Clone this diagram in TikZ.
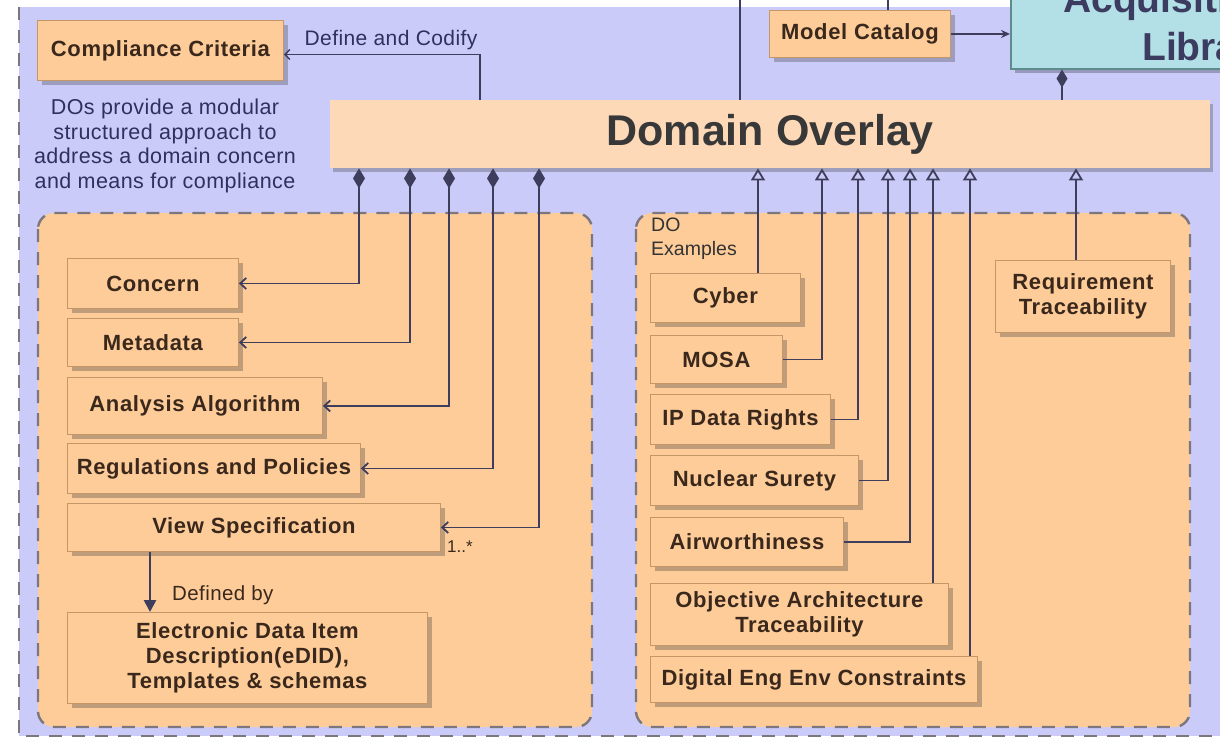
\documentclass[tikz,border=0pt]{standalone}
\usepackage{fontspec}
\setmainfont{Liberation Sans}
\newfontfamily\boxfont[LetterSpace=3]{Liberation Sans}
\newfontfamily\notefont[LetterSpace=2]{Liberation Sans}
\usetikzlibrary{arrows.meta,shadows}

\definecolor{lav}{RGB}{203,203,250}
\definecolor{peach}{RGB}{253,204,153}
\definecolor{peachlt}{RGB}{253,217,184}
\definecolor{boxedge}{RGB}{196,150,104}
\definecolor{aqualt}{RGB}{178,224,230}
\definecolor{aquaedge}{RGB}{92,140,140}
\definecolor{wirecol}{RGB}{62,62,92}
\definecolor{ink}{RGB}{58,40,28}
\definecolor{navytxt}{RGB}{48,48,92}
\definecolor{dashcol}{RGB}{125,118,125}

\tikzset{
  blk/.style={draw=boxedge, line width=0.9pt, fill=peach, anchor=north west,
    inner sep=1pt, align=center, text=ink,
    font=\boxfont\fontsize{22}{25}\selectfont\bfseries,
    drop shadow={shadow xshift=5pt, shadow yshift=-5pt, opacity=0.3, fill=black!80}},
  pack/.style={draw=dashcol, line width=2.4pt, dash pattern=on 13pt off 10pt,
    fill=peach, rounded corners=16pt},
  wire/.style={draw=wirecol, line width=1.8pt},
  comp/.style={wire, {Diamond[length=20pt,width=12pt]}-{Straight Barb[length=6pt,width=11pt]}},
  gen/.style={wire, -{Triangle[open, fill=lav, length=12pt, width=14pt, line width=1.8pt]}},
  note/.style={text=navytxt, font=\notefont\fontsize{21.5}{24.5}\selectfont, align=center, inner sep=0pt},
}

\begin{document}
\begin{tikzpicture}[x=1pt, y=-1pt]
\useasboundingbox (0,0) rectangle (1220,740);
\clip (0,0) rectangle (1220,740);

% canvas
\fill[white] (0,0) rectangle (1220,740);
\fill[lav] (19,7) rectangle (1220,736);
\draw[draw=dashcol, line width=2.4pt, dash pattern=on 13pt off 10pt]
  (19,7) -- (19,736) -- (1220,736);

% packages
\draw[pack] (38,213) rectangle (592,727);
\draw[pack] (636,213) rectangle (1190,727);

% library block at the top right
\node[draw=aquaedge, line width=1.6pt, fill=aqualt, anchor=north west,
  minimum width=280pt, minimum height=108pt, inner sep=0pt,
  drop shadow={shadow xshift=4pt, shadow yshift=-4pt, opacity=0.25, fill=black}]
  (lib) at (1010,-40) {};
\node[anchor=base west, inner sep=0pt, text=navytxt!85!gray,
  font=\fontsize{39}{45}\selectfont\bfseries] (libA) at (1063,12) {Acquisition};
\node[anchor=base west, inner sep=0pt, text=navytxt!85!gray,
  font=\fontsize{39}{45}\selectfont\bfseries] (libB) at (1142,60) {Library};

\node[blk, minimum width=181pt, minimum height=47pt] (model) at (769,10) {Model Catalog};

% domain overlay bar
\node[fill=peachlt, anchor=north west, minimum width=880pt, minimum height=68pt,
  inner sep=0pt, text=black!78, font=\fontsize{43}{50}\selectfont\bfseries,
  drop shadow={shadow xshift=3pt, shadow yshift=-4pt, opacity=0.3, fill=black!80}]
  (dom) at (330,100) {Domain Overlay};

% left side
\node[blk, minimum width=246pt, minimum height=60pt] (crit) at (37,20) {Compliance Criteria};
\node[note] (dos) at (165,146) {DOs provide a modular\\structured approach to\\address a domain concern\\and means for compliance};

\node[blk, minimum width=171pt, minimum height=50pt] (concern) at (67,258) {Concern};
\node[blk, minimum width=171pt, minimum height=48pt] (meta) at (67,318) {Metadata};
\node[blk, minimum width=255pt, minimum height=57pt] (algo) at (67,377) {Analysis Algorithm};
\node[blk, minimum width=293pt, minimum height=50pt] (regs) at (67,443) {Regulations and Policies};
\node[blk, minimum width=373pt, minimum height=48pt] (view) at (67,503) {View Specification};
\node[blk, minimum width=360pt, minimum height=91pt] (edid) at (67,612)
  {Electronic Data Item\\Description(eDID),\\Templates \& schemas};

% right side
\node[note, anchor=north west, align=left, text=black!80, font=\fontsize{19.5}{24}\selectfont]
  (doex) at (651,218) {DO\\Examples};
\node[blk, minimum width=150pt, minimum height=49pt] (cyber) at (650,273) {Cyber};
\node[blk, minimum width=132pt, minimum height=48pt] (mosa) at (650,335) {MOSA};
\node[blk, minimum width=180pt, minimum height=50pt] (ipr) at (650,394) {IP Data Rights};
\node[blk, minimum width=208pt, minimum height=50pt] (nuke) at (650,455) {Nuclear Surety};
\node[blk, minimum width=193pt, minimum height=49pt] (air) at (650,517) {Airworthiness};
\node[blk, minimum width=298pt, minimum height=62pt] (obj) at (650,583) {Objective Architecture\\Traceability};
\node[blk, minimum width=327pt, minimum height=46pt] (dig) at (650,656) {Digital Eng Env Constraints};
\node[blk, minimum width=175pt, minimum height=72pt] (req) at (995,260) {Requirement\\Traceability};

% connector columns
\coordinate (kA) at (359,0);
\coordinate (kB) at (410,0);
\coordinate (kC) at (449,0);
\coordinate (kD) at (493,0);
\coordinate (kE) at (539,0);
\coordinate (gA) at (758,0);
\coordinate (gB) at (822,0);
\coordinate (gC) at (858,0);
\coordinate (gD) at (888,0);
\coordinate (gE) at (910,0);
\coordinate (gF) at (933,0);
\coordinate (gG) at (970,0);
\coordinate (gH) at (1076,0);
\coordinate (dc) at (480,0);
\coordinate (lk) at (1062,0);
\coordinate (vs) at (150,0);
\coordinate (upA) at (740,0);
\coordinate (upB) at (888,0);

% lines leaving the top edge
\draw[wire, line width=2.4pt] (upA) -- (dom.north -| upA);
\draw[wire, line width=2pt] (upB) -- (model.north -| upB);

% model catalog into the library
\draw[wire, -{Stealth[length=9pt,width=8pt]}] (model.east) -- (lib.west |- model.east);
\draw[wire, {Diamond[length=18pt,width=11pt]}-] (lib.south -| lk) -- (dom.north -| lk);

% define and codify
\draw[wire, line width=1.4pt, -{Straight Barb[length=5pt,width=10pt]}]
  (dom.north -| dc) |- ([yshift=-4pt]crit.east);
\node[note, font=\notefont\fontsize{21}{24}\selectfont, anchor=base] (dclab) at (391,45) {Define and Codify};

% composition parts
\draw[comp] (dom.south -| kA) |- (concern.east);
\draw[comp] (dom.south -| kB) |- (meta.east);
\draw[comp] (dom.south -| kC) |- (algo.east);
\draw[comp] (dom.south -| kD) |- (regs.east);
\draw[comp] (dom.south -| kE) |- (view.east);
\node[text=ink, font=\fontsize{17}{20}\selectfont, anchor=base west, inner sep=0pt] (mult) at (447,552) {1..*};

% view specification defined by
\draw[wire, line width=2.6pt, -{Triangle[length=12pt,width=12pt]}] (view.south -| vs) -- (edid.north -| vs);
\node[text=ink, font=\notefont\fontsize{20.5}{24}\selectfont, anchor=base west, inner sep=0pt] (defby) at (172,600) {Defined by};

% examples generalize the overlay
\draw[gen] (cyber.north -| gA) -- (dom.south -| gA);
\draw[gen] (mosa.east) -| (dom.south -| gB);
\draw[gen] (ipr.east) -| (dom.south -| gC);
\draw[gen] (nuke.east) -| (dom.south -| gD);
\draw[gen] (air.east) -| (dom.south -| gE);
\draw[gen] (obj.north -| gF) -- (dom.south -| gF);
\draw[gen] (dig.north -| gG) -- (dom.south -| gG);
\draw[gen] (req.north -| gH) -- (dom.south -| gH);
\end{tikzpicture}
\end{document}
